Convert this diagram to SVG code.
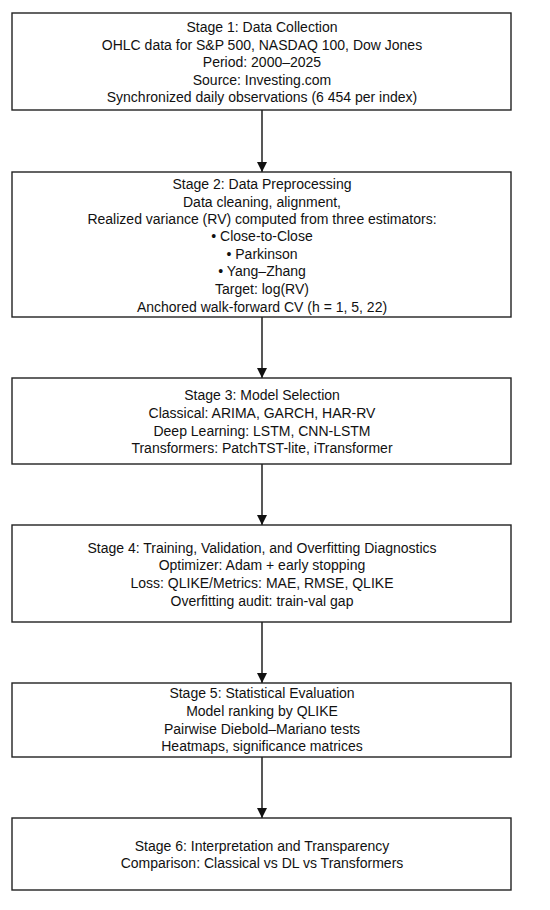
<svg xmlns="http://www.w3.org/2000/svg" width="550" height="910" viewBox="0 0 550 910">
<defs>
<marker id="ah" markerWidth="10" markerHeight="10" refX="10" refY="5" orient="auto" markerUnits="userSpaceOnUse">
<path d="M0,0 L10,5 L0,10 Z" fill="#111"/>
</marker>
<style>
.box{fill:#fff;stroke:#222;stroke-width:1.4}
.t{font-family:"Liberation Sans",Arial,sans-serif;font-size:14px;fill:#111;text-anchor:middle}
.c{stroke:#111;stroke-width:1.4;fill:none;marker-end:url(#ah)}
</style>
</defs>
<rect width="550" height="910" fill="#fff"/>
<g id="connectors">
<line class="c" x1="262" y1="110" x2="262" y2="172"/>
<line class="c" x1="262" y1="317" x2="262" y2="378"/>
<line class="c" x1="262" y1="464" x2="262" y2="525"/>
<line class="c" x1="262" y1="622" x2="262" y2="683"/>
<line class="c" x1="262" y1="757" x2="262" y2="818"/>
</g>
<g id="stage1">
<rect class="box" x="12" y="13" width="499" height="97"/>
<text class="t" x="262" y="32">Stage 1: Data Collection</text>
<text class="t" x="262" y="49.5">OHLC data for S&amp;P 500, NASDAQ 100, Dow Jones</text>
<text class="t" x="262" y="67">Period: 2000–2025</text>
<text class="t" x="262" y="84.5">Source: Investing.com</text>
<text class="t" x="262" y="102">Synchronized daily observations (6 454 per index)</text>
</g>
<g id="stage2">
<rect class="box" x="12" y="172" width="499" height="145"/>
<text class="t" x="262" y="189">Stage 2: Data Preprocessing</text>
<text class="t" x="262" y="206.5">Data cleaning, alignment,</text>
<text class="t" x="262" y="224">Realized variance (RV) computed from three estimators:</text>
<text class="t" x="262" y="241">• Close-to-Close</text>
<text class="t" x="262" y="259">• Parkinson</text>
<text class="t" x="262" y="276">• Yang–Zhang</text>
<text class="t" x="262" y="293.5">Target: log(RV)</text>
<text class="t" x="262" y="311.5">Anchored walk-forward CV (h = 1, 5, 22)</text>
</g>
<g id="stage3">
<rect class="box" x="12" y="378" width="499" height="86"/>
<text class="t" x="262" y="400">Stage 3: Model Selection</text>
<text class="t" x="262" y="417.5">Classical: ARIMA, GARCH, HAR-RV</text>
<text class="t" x="262" y="435.5">Deep Learning: LSTM, CNN-LSTM</text>
<text class="t" x="262" y="452.5">Transformers: PatchTST-lite, iTransformer</text>
</g>
<g id="stage4">
<rect class="box" x="12" y="525" width="499" height="97"/>
<text class="t" x="262" y="552.5">Stage 4: Training, Validation, and Overfitting Diagnostics</text>
<text class="t" x="262" y="570">Optimizer: Adam + early stopping</text>
<text class="t" x="262" y="587.5">Loss: QLIKE/Metrics: MAE, RMSE, QLIKE</text>
<text class="t" x="262" y="605.5">Overfitting audit: train-val gap</text>
</g>
<g id="stage5">
<rect class="box" x="12" y="683" width="499" height="74"/>
<text class="t" x="262" y="698">Stage 5: Statistical Evaluation</text>
<text class="t" x="262" y="716">Model ranking by QLIKE</text>
<text class="t" x="262" y="734">Pairwise Diebold–Mariano tests</text>
<text class="t" x="262" y="751">Heatmaps, significance matrices</text>
</g>
<g id="stage6">
<rect class="box" x="12" y="818" width="499" height="72"/>
<text class="t" x="262" y="850.5">Stage 6: Interpretation and Transparency</text>
<text class="t" x="262" y="868">Comparison: Classical vs DL vs Transformers</text>
</g>
</svg>
